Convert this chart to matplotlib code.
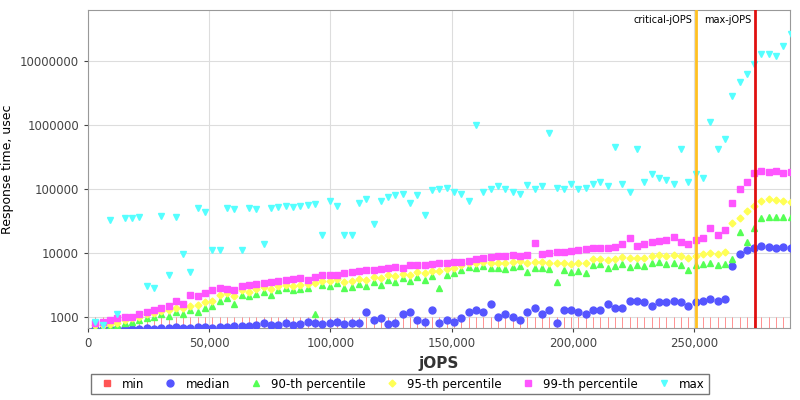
import matplotlib
matplotlib.use("Agg")
import matplotlib.pyplot as plt
from matplotlib.ticker import FuncFormatter, FixedLocator

x = [3020*i for i in range(1, 97)]
median = [650,640,660,650,670,660,650,680,660,670,680,690,670,680,690,700,680,690,700,720,
          730,720,750,800,760,740,820,760,780,830,800,790,810,850,780,800,820,1200,900,950,
          780,800,1100,1200,900,850,1300,800,900,850,950,1200,1300,1200,1600,1000,1100,1000,900,1200,
          1400,1100,1300,800,1300,1300,1200,1100,1300,1300,1600,1400,1400,1800,1800,1700,1500,1700,1700,1800,
          1700,1500,1700,1800,1900,1800,1900,6200,9500,11000,12000,13000,12500,12000,12500,12000]
p90 = [700,700,720,750,800,850,900,950,1000,1100,1050,1200,1100,1300,1200,1400,1500,1800,2000,1600,
       2200,2100,2300,2500,2200,2600,2800,2600,2700,2800,1100,3200,3000,3400,2800,2900,3300,3100,3500,3200,
       3800,3500,4000,3600,4200,3800,4300,2800,4600,4800,5500,6000,5800,6200,5800,5900,5600,6000,6300,5000,
       5800,5900,5700,3500,5400,5000,5200,4800,6500,6800,5900,6300,6800,6000,6500,6300,7000,7200,6800,7000,
       6500,5500,6500,6800,7000,6500,6800,8000,21000,15000,25000,35000,36000,37000,37000,36000]
p95 = [750,760,780,800,900,950,1000,1100,1150,1250,1300,1400,1400,1500,1550,1700,1800,2200,2400,2100,
       2600,2500,2700,2900,2700,3000,3200,3100,3200,3300,3400,3700,3600,3900,3500,3600,3900,3800,4200,4000,
       4500,4300,4700,4500,5000,4800,5200,5200,5600,5800,6500,7000,6900,7200,7000,7100,6900,7300,7600,7000,
       7200,7300,7100,7000,7000,6800,7000,6900,8000,8200,7800,8000,8600,8400,8500,8300,9000,9300,9000,9200,
       9000,8500,9000,9500,10000,9800,10500,30000,35000,45000,55000,65000,70000,68000,65000,62000]
p99 = [800,850,900,950,1000,1000,1100,1200,1300,1400,1500,1800,1600,2200,2100,2400,2600,2800,2700,2600,
       3000,3200,3300,3400,3500,3600,3800,3900,4000,3800,4200,4500,4600,4500,4800,5000,5200,5400,5500,5600,
       5800,6000,5900,6400,6600,6500,6800,7000,7100,7200,7300,7500,8000,8500,8800,9000,9100,9200,9000,9400,
       14500,9800,10000,10200,10500,10800,11000,11500,12000,11800,12000,12500,14000,17000,13000,14000,15000,15500,16000,17500,
       15000,14000,16000,17000,25000,19000,23000,60000,100000,130000,180000,190000,185000,190000,180000,185000]
pmax = [850,750,33000,1100,35000,35000,37000,3100,2800,38000,4500,37000,9500,5000,50000,44000,11000,11000,50000,48000,
        11000,50000,48000,14000,50000,52000,55000,53000,55000,56000,58000,19000,65000,55000,19000,19000,60000,70000,28000,65000,
        75000,80000,85000,60000,80000,40000,95000,100000,105000,90000,85000,65000,1000000,90000,100000,110000,100000,90000,85000,115000,
        100000,110000,750000,105000,100000,120000,100000,105000,120000,130000,110000,450000,120000,90000,420000,130000,170000,150000,140000,120000,
        420000,130000,170000,150000,1100000,420000,600000,2800000,4800000,6200000,9000000,13000000,13000000,12000000,17000000,27000000]
pmin = [500]*96
critical_jops = 251000
max_jops = 275000

fig = plt.figure(figsize=(8, 4), dpi=100)
ax = fig.add_axes([0.11, 0.18, 0.8775, 0.795])
ax.vlines(x, 1, 1000, colors="#ff6666", linewidth=0.5, zorder=2)
ax.plot(x, pmin, "s", color="#ff5555", ms=4.5, label="min", zorder=3)
ax.plot(x, median, "o", color="#5555ff", ms=5, label="median", zorder=3)
ax.plot(x, p90, "^", color="#55ff55", ms=5, label="90-th percentile", zorder=3)
ax.plot(x, p95, "D", color="#ffff55", ms=3.5, label="95-th percentile", zorder=3)
ax.plot(x, p99, "s", color="#ff55ff", ms=4, label="99-th percentile", zorder=3)
ax.plot(x, pmax, "v", color="#55ffff", ms=5, label="max", zorder=3)
ax.axvline(critical_jops, color="#ffc020", lw=2, zorder=4)
ax.axvline(max_jops, color="#e01010", lw=2, zorder=4)
ax.text(critical_jops - 1500, 4.4e7, "critical-jOPS", ha="right", va="center", fontsize=7)
ax.text(max_jops - 1500, 4.4e7, "max-jOPS", ha="right", va="center", fontsize=7)

ax.set_yscale("log")
ax.set_ylim(673, 6.3e7)
ax.set_xlim(0, 289600)
ax.yaxis.set_major_locator(FixedLocator([1e3, 1e4, 1e5, 1e6, 1e7]))
ax.yaxis.set_minor_locator(FixedLocator([]))
ax.yaxis.set_major_formatter(FuncFormatter(lambda v, p: f"{int(v)}"))
ax.xaxis.set_major_locator(FixedLocator([0, 50000, 100000, 150000, 200000, 250000]))
ax.xaxis.set_major_formatter(FuncFormatter(lambda v, p: f"{int(v):,}"))
ax.tick_params(labelsize=8.5, colors="#444444", length=3)
ax.grid(True, color="#dddddd", lw=0.8)
ax.set_axisbelow(True)
for s in ax.spines.values():
    s.set_color("#999999")
ax.set_xlabel("jOPS", fontsize=11, fontweight="bold", color="#333333")
ax.set_ylabel("Response time, usec", fontsize=9)
fig.legend(loc="lower center", ncol=6, bbox_to_anchor=(0.5, 0.0), fontsize=8.5,
           frameon=True, fancybox=False, edgecolor="#555555", handletextpad=0.3,
           columnspacing=1.2, borderpad=0.3)
fig.savefig("out.png", dpi=100)
